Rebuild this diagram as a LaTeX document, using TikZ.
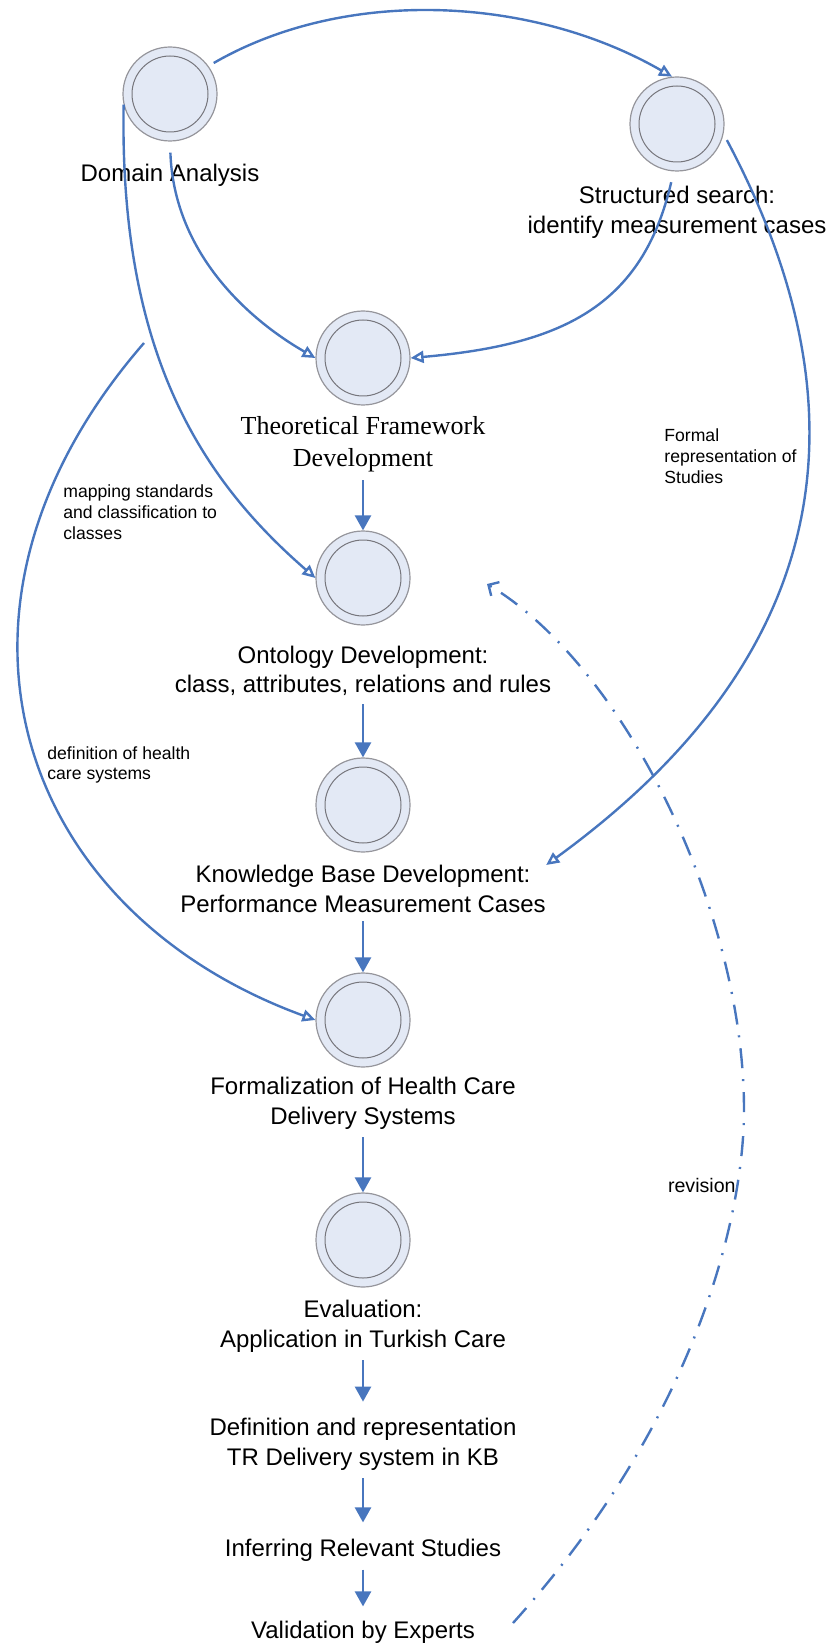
\documentclass[tikz,border=0pt]{standalone}
\usepackage{fontspec}
\setmainfont{Liberation Sans}
\newfontfamily\timesface{Liberation Serif}
\usetikzlibrary{arrows.meta}
\definecolor{linkblue}{RGB}{72,118,190}
\definecolor{ballfill}{RGB}{227,233,245}
\definecolor{ballrim}{RGB}{150,150,156}
\definecolor{ballcore}{RGB}{118,118,124}

\begin{document}
\begin{tikzpicture}[x=0.5pt,y=0.5pt,
  ball/.style={circle,minimum size=47pt,inner sep=0pt,fill=ballfill,draw=ballrim,line width=0.6pt,
    path picture={\draw[ballcore,line width=0.5pt] (path picture bounding box.center) circle (19pt);}},
  caption/.style={inner sep=0pt,align=center,font=\fontsize{12}{14.8}\selectfont},
  note/.style={inner sep=0pt,align=left,anchor=west,font=\fontsize{8.8}{10.4}\selectfont},
  flow/.style={draw=linkblue,line width=1.25pt,-{Triangle[length=7.5pt,width=8pt]},shorten <=4pt},
  link/.style={draw=linkblue,line width=1.2pt,-{Triangle[open,length=6.5pt,width=6pt]}},
  revise/.style={draw=linkblue,line width=1.2pt,dash pattern=on 10pt off 5.5pt on 1pt off 5.5pt,-{Straight Barb[length=4pt,width=8pt]}}]
\useasboundingbox (0,0) rectangle (829,-1652);

%Shape: Circles
\node[ball] (D) at (170,-94) {};
\node[ball] (S) at (677,-124) {};
\node[ball] (T) at (363,-358) {};
\node[ball] (O) at (363,-578) {};
\node[ball] (K) at (363,-805) {};
\node[ball] (F) at (363,-1020) {};
\node[ball] (E) at (363,-1240) {};

%Text: step captions
\node[caption] (Dlab) at (170,-175) {Domain Analysis};
\node[caption] (Slab) at (677,-212) {Structured search:\\identify measurement cases};
\node[caption,font=\timesface\fontsize{13}{16}\selectfont] (Tlab) at (363,-444) {Theoretical Framework\\Development};
\node[caption] (Olab) at (363,-671) {Ontology Development:\\class, attributes, relations and rules};
\node[caption] (Klab) at (363,-889) {Knowledge Base Development:\\Performance Measurement Cases};
\node[caption] (Flab) at (363,-1103) {Formalization of Health Care\\Delivery Systems};
\node[caption] (Elab) at (363,-1326) {Evaluation:\\Application in Turkish Care};
\node[caption] (Rlab) at (363,-1444) {Definition and representation\\TR Delivery system in KB};
\node[caption] (Ilab) at (363,-1550) {Inferring Relevant Studies};
\node[caption] (Vlab) at (363,-1632) {Validation by Experts};

%Text: connector notes
\node[note] (mapnote) at (63,-512) {mapping standards\\and classification to\\classes};
\node[note] (defnote) at (47,-765) {definition of health\\care systems};
\node[note] (formnote) at (664,-456) {Formal\\representation of\\Studies};
\node[inner sep=0pt,anchor=east,font=\fontsize{9.8}{11}\selectfont] (revnote) at (736,-1185) {revision};

%Straight Lines
\draw[flow] (Tlab) -- (O);
\draw[flow] (Olab) -- (K);
\draw[flow] (Klab) -- (F);
\draw[flow] (Flab) -- (E);
\draw[flow,shorten >=8pt] (Elab) -- (Rlab);
\draw[flow,shorten >=8pt] (Rlab) -- (Ilab);
\draw[flow,shorten >=7pt] (Ilab) -- (Vlab);

%Curves
\coordinate (defstart) at (144,-343);
\coordinate (revstart) at (513,-1623);
\coordinate (revturn) at (744,-1110);
\coordinate (revend) at (487,-584);
\draw[link,shorten <=3pt] (D.36) to[out=30,in=150,out distance=80pt,in distance=80pt] (S.96);
\draw[link,shorten <=5.5pt] (D.south) to[out=-88,in=150,out distance=55pt,in distance=40pt] (T.west);
\draw[link] (D.193) to[out=-91,in=139,out distance=125pt,in distance=75pt] (O.west);
\draw[link,shorten <=5.5pt] (S.-94) to[out=-103,in=5,out distance=70pt,in distance=75pt] (T.east);
\draw[link,shorten <=3.5pt] (S.-12) to[out=-62,in=36,out distance=160pt,in distance=175pt] (Klab.north east);
\draw[link] (defstart) to[out=229,in=160,out distance=175pt,in distance=160pt] (F.west);
\draw[revise] (revstart) to[out=48,in=-90,out distance=140pt,in distance=50pt] (revturn)
  to[out=90,in=-31,out distance=100pt,in distance=80pt] (revend);

\end{tikzpicture}
\end{document}
